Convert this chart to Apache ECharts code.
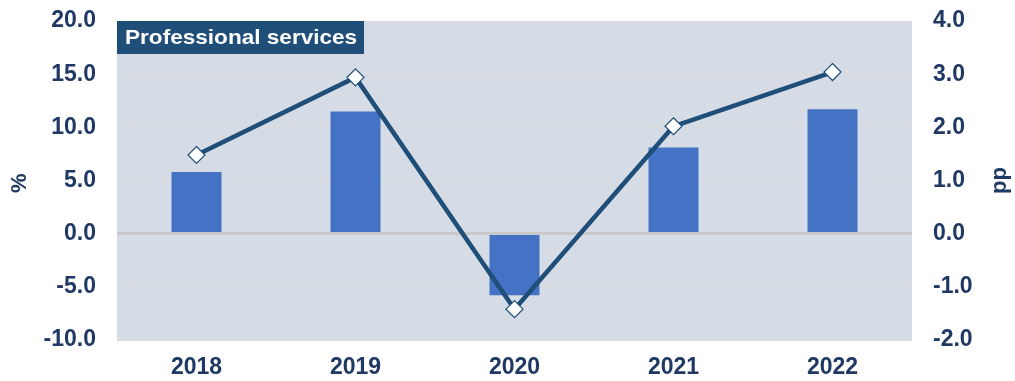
<!DOCTYPE html>
<html>
<head>
<meta charset="utf-8">
<script src="https://cdn.jsdelivr.net/npm/echarts@6/dist/echarts.min.js"></script>
<style>
  html, body { margin: 0; padding: 0; background: #ffffff; }
  #chart { width: 1015px; height: 381px; }
</style>
</head>
<body>
<div id="chart"></div>
<script>
// Years on the category axis
const years = ['2018', '2019', '2020', '2021', '2022'];
// Growth, % (bars, left axis)
const growthPct = [5.8, 11.5, -5.8, 8.1, 11.7];
// Contribution, pp (line, right axis)
const contributionPp = [1.48, 2.94, -1.42, 2.02, 3.04];
// Axis ranges and tick steps
const leftAxis = { min: -10, max: 20, step: 5 };
const rightAxis = { min: -2, max: 4, step: 1 };
const titleText = 'Professional services';
const leftName = '%';
const rightName = 'pp';

const navy = '#1f3864';
const font = 'Liberation Sans, Arial, sans-serif';
const tickLabel = {
  color: navy, fontSize: 23, fontWeight: 'bold', fontFamily: font,
  formatter: v => v.toFixed(1)
};

const chart = echarts.init(document.getElementById('chart'), null, { renderer: 'canvas' });
chart.setOption({
  animation: false,
  grid: {
    left: 117, right: 103, top: 21, bottom: 41,
    show: true, backgroundColor: '#d6dce5', borderWidth: 0
  },
  xAxis: {
    type: 'category',
    data: years,
    axisLine: { show: false },
    axisTick: { show: false },
    axisLabel: { color: navy, fontSize: 23, fontWeight: 'bold', fontFamily: font, margin: 16 }
  },
  yAxis: [
    {
      type: 'value', min: leftAxis.min, max: leftAxis.max, interval: leftAxis.step,
      axisLine: { show: false }, axisTick: { show: false },
      axisLabel: Object.assign({ margin: 21 }, tickLabel),
      splitLine: { show: true, lineStyle: { color: '#d9d9d9', width: 1 } }
    },
    {
      type: 'value', min: rightAxis.min, max: rightAxis.max, interval: rightAxis.step,
      axisLine: { show: false }, axisTick: { show: false },
      axisLabel: Object.assign({ margin: 21 }, tickLabel),
      splitLine: { show: false }
    }
  ],
  graphic: [
    // title badge in the top-left corner of the plot
    {
      type: 'rect', z: 100,
      shape: { x: 117, y: 21, width: 247, height: 33 },
      style: { fill: '#1f4e79' }
    },
    {
      type: 'text', z: 101, x: 125, y: 38, scaleX: 1.075,
      style: {
        text: titleText, fill: '#ffffff', font: 'bold 21px ' + font,
        verticalAlign: 'middle', align: 'left'
      }
    },
    // axis titles
    {
      type: 'text', x: 9, y: 193, rotation: Math.PI / 2,
      style: { text: leftName, fill: navy, font: 'bold 22px ' + font }
    },
    {
      type: 'text', x: 989, y: 194, rotation: Math.PI / 2,
      style: { text: rightName, fill: navy, font: 'bold 22px ' + font }
    }
  ],
  series: [
    {
      type: 'bar',
      data: growthPct,
      yAxisIndex: 0,
      barWidth: 50,
      itemStyle: { color: '#4472c4' },
      markLine: {
        silent: true, symbol: 'none', label: { show: false },
        lineStyle: { color: '#c9c9c9', width: 3, type: 'solid' },
        data: [{ yAxis: 0 }]
      }
    },
    {
      type: 'line',
      data: contributionPp,
      yAxisIndex: 1,
      symbol: 'diamond',
      symbolSize: 17,
      lineStyle: { color: '#1f4e79', width: 4.5 },
      itemStyle: { color: '#ffffff', borderColor: '#1f4e79', borderWidth: 1.2 },
      z: 5
    }
  ]
});
</script>
</body>
</html>
